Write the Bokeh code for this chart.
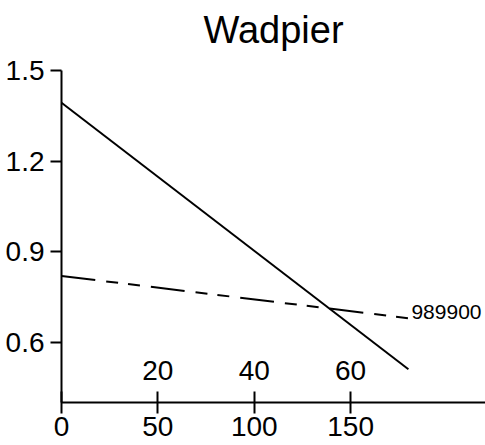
from bokeh.plotting import figure
from bokeh.models import LinearAxis, Range1d, FixedTicker
from bokeh.core.properties import value
from bokeh.embed import file_html
from bokeh.resources import INLINE

# ---- data ----
title_text = "Wadpier"
x_ticks = [0, 50, 100, 150]
x2_ticks = [20, 40, 60]
y_ticks = [0.6, 0.9, 1.2, 1.5]
solid_x = [0, 180]
solid_y = [1.393, 0.510]
dashed_x = [0, 180]
dashed_y = [0.819, 0.679]
dashed_label = "989900"
x_axis_min, x_max = 0, 220
x2_min, x2_max = 0, 88
y_axis_min, y_axis_max = 0.4, 1.5
# the view extends beyond the axes so their tick labels have room
x_view_min = -31.66
y_view_min, y_view_max = 0.257, 1.5597

FONT = "Liberation Sans"
TICK_SIZE = "28px"

p = figure(width=485, height=445,
           x_range=Range1d(x_view_min, x_max), y_range=Range1d(y_view_min, y_view_max),
           output_backend="svg", toolbar_location=None,
           x_axis_type=None, y_axis_type=None,
           min_border_left=0, min_border_right=0,
           min_border_top=52, min_border_bottom=0)
p.extra_x_ranges = {"x2": Range1d(x_view_min / 2.5, x2_max)}
p.outline_line_color = None
p.background_fill_color = "white"
p.border_fill_color = "white"

p.title.text = title_text
p.title.align = "left"
p.title.offset = 203
p.title.text_font = FONT
p.title.text_font_size = "38px"
p.title.text_font_style = "normal"
p.title.text_color = "black"
p.title.standoff = 4

def style_axis(ax):
    ax.axis_line_color = "black"
    ax.axis_line_width = 2
    ax.major_tick_line_color = "black"
    ax.major_tick_line_width = 2
    ax.minor_tick_line_color = None
    ax.major_label_text_font = FONT
    ax.major_label_text_font_size = TICK_SIZE
    ax.major_label_text_color = "black"

# bottom x axis (crossing ticks), drawn at y = 0.4
xa = LinearAxis(ticker=FixedTicker(ticks=x_ticks), fixed_location=y_axis_min,
                bounds=(x_axis_min, x_max))
style_axis(xa)
xa.major_tick_in = 11
xa.major_tick_out = 11
xa.major_label_standoff = 4
p.add_layout(xa, "below")

# secondary x axis: labels only, drawn above the same line
xa2 = LinearAxis(ticker=FixedTicker(ticks=x2_ticks), x_range_name="x2",
                 fixed_location=y_axis_min)
style_axis(xa2)
xa2.axis_line_color = None
xa2.major_tick_line_color = None
xa2.major_tick_in = 0
xa2.major_tick_out = 0
xa2.major_label_standoff = 22
p.add_layout(xa2, "above")

# y axis, drawn at x = 0
ya = LinearAxis(ticker=FixedTicker(ticks=y_ticks), fixed_location=x_axis_min,
                bounds=(y_axis_min, y_axis_max))
style_axis(ya)
ya.major_tick_in = 0
ya.major_tick_out = 11
ya.major_label_standoff = 6
p.add_layout(ya, "left")

p.line(solid_x, solid_y, line_color="black", line_width=2)
p.line(dashed_x, dashed_y, line_color="black", line_width=2, line_dash="34 11 12 10 12 11")
p.text(x=[dashed_x[-1]], y=[dashed_y[-1]], text=[dashed_label],
       x_offset=3, y_offset=-6, text_baseline="alphabetic", text_align="left",
       text_font=value(FONT), text_font_size="21px", text_color="black")

open("out.html", "w").write(file_html(p, INLINE))
